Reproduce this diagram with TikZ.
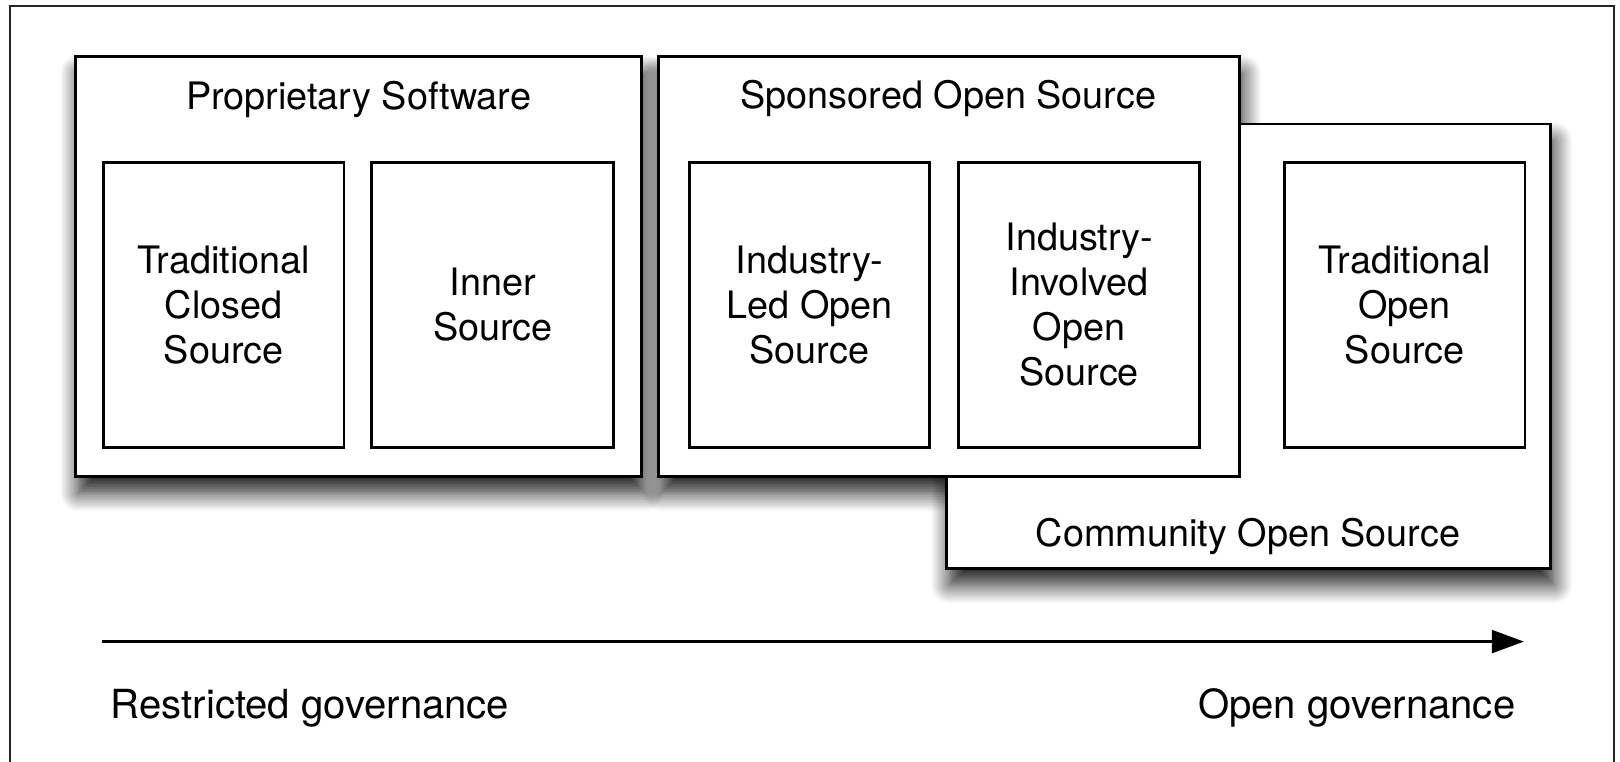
\documentclass[tikz,border=0pt]{standalone}
\usepackage{fontspec}
\setmainfont{TeX Gyre Heros}
\usetikzlibrary{shadows.blur,arrows.meta}
\begin{document}
\begin{tikzpicture}[x=0.5pt,y=-0.5pt,
  boxshadow/.style={blur shadow={shadow xshift=1.5pt,shadow yshift=-8pt,shadow blur radius=9pt,shadow blur steps=12,shadow opacity=90}},
  outerbox/.style={draw=black,line width=1.4pt,fill=white,rectangle,inner sep=0pt,minimum height=203pt},
  innerbox/.style={draw=black,line width=1.4pt,fill=white,rectangle,inner sep=0pt,minimum width=116.5pt,minimum height=138pt,align=center,font=\fontsize{18.3}{21.75}\selectfont},
  title/.style={anchor=base,inner sep=0pt,font=\fontsize{18.3}{21.75}\selectfont},
  govlabel/.style={inner sep=0pt,font=\fontsize{19.4}{23}\selectfont}]
\useasboundingbox (0,0) rectangle (1568,736.6);
\begin{scope}
\clip (0,0) rectangle (1568,736.6);
\draw[line width=1pt,black!85] (10,6) rectangle (1562,760);
\end{scope}
% proprietary
\node[outerbox,boxshadow,minimum width=274pt] (prop) at (347,258) {};
% sponsored shadow only
\path[boxshadow] (637,55) rectangle (1200,461);
% community
\node[outerbox,boxshadow,minimum width=292.5pt,minimum height=215pt] (comm) at (1208.5,335) {};
% sponsored
\node[outerbox,minimum width=281.5pt] (spons) at (918.5,258) {};
% titles
\node[title] (propt) at (347,106) {Proprietary Software};
\node[title] (sponst) at (918,105) {Sponsored Open Source};
\node[title] (commt) at (1208,529) {Community Open Source};
% inner boxes
\node[innerbox] (tc) at (216.5,295) {Traditional\\Closed\\Source};
\node[innerbox,minimum width=117pt] (is) at (477,295) {Inner\\Source};
\node[innerbox] (il) at (783.5,295) {Industry-\\Led Open\\Source};
\node[innerbox] (ii) at (1044.5,295) {Industry-\\Involved\\Open\\Source};
\node[innerbox] (to) at (1359.5,295) {Traditional\\Open\\Source};
% arrow
\coordinate (a1) at (99,621);
\coordinate (a2) at (1475,621);
\draw[line width=1.5pt,-{Triangle[length=15.5pt,width=11pt,fill=black]}] (a1) -- (a2);
\node[govlabel,anchor=base west] (rg) at (107,695) {Restricted governance};
\node[govlabel,anchor=base east] (og) at (1467,695) {Open governance};
\end{tikzpicture}
\end{document}
